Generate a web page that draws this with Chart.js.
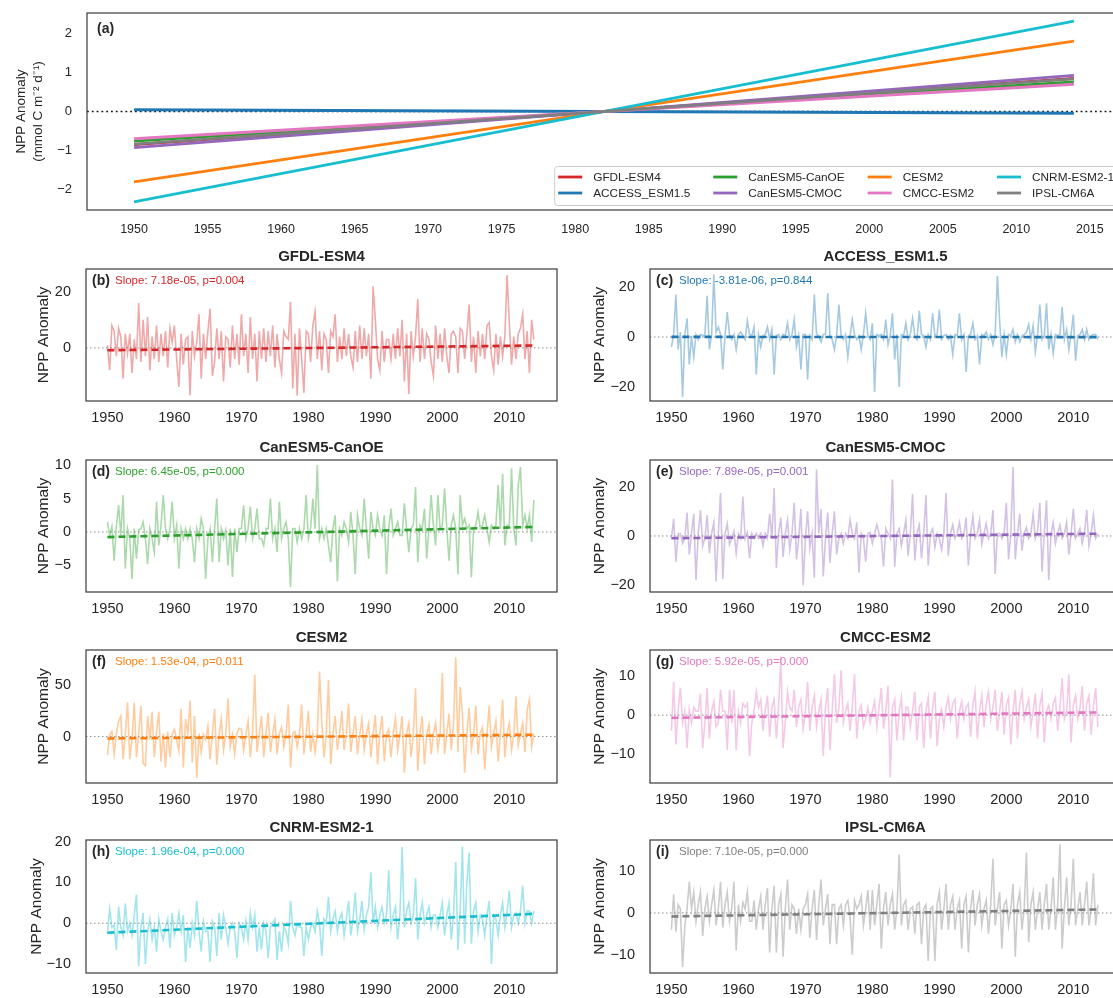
<!DOCTYPE html>
<html>
<head>
<meta charset="utf-8">
<title>NPP anomaly trends</title>
<script src="https://cdn.jsdelivr.net/npm/chart.js@4.4.1/dist/chart.umd.min.js"></script>
<style>
  html, body { margin: 0; padding: 0; background: #fff; width: 1113px; height: 998px; overflow: hidden; }
  canvas { position: absolute; }
</style>
</head>
<body>
<script>
// ---- data ----
const models = ['GFDL-ESM4', 'ACCESS_ESM1.5', 'CanESM5-CanOE', 'CanESM5-CMOC', 'CESM2', 'CMCC-ESM2', 'CNRM-ESM2-1', 'IPSL-CM6A'];
const colors = ['#d62728', '#1f77b4', '#2ca02c', '#9467bd', '#ff7f0e', '#e377c2', '#17becf', '#7f7f7f'];
const tags = ['(b)', '(c)', '(d)', '(e)', '(f)', '(g)', '(h)', '(i)'];
const slopes = ['7.18e-05', '-3.81e-06', '6.45e-05', '7.89e-05', '1.53e-04', '5.92e-05', '1.96e-04', '7.10e-05'];
const pValues = ['0.004', '0.844', '0.000', '0.001', '0.011', '0.000', '0.000', '0.000'];

// fitted trend at the first and last month of the record
const trendFirst = [-0.85, 0.045, -0.76, -0.93, -1.81, -0.70, -2.32, -0.84];
const trendLast = [0.85, -0.045, 0.76, 0.93, 1.81, 0.70, 2.32, 0.84];
const fitStart = 1950;
const fitEnd = 2013 + 11 / 12;

const topXTicks = [1950, 1955, 1960, 1965, 1970, 1975, 1980, 1985, 1990, 1995, 2000, 2005, 2010, 2015];
const topYTicks = [-2, -1, 0, 1, 2];
const panelXTicks = [1950, 1960, 1970, 1980, 1990, 2000, 2010];
const panelYTicks = [[0, 20], [-20, 0, 20], [-5, 0, 5, 10], [-20, 0, 20], [0, 50], [-10, 0, 10], [-10, 0, 10, 20], [-10, 0, 10]];

// anomalies every 4 months, Jan 1950 .. Sep 2013
const nppGFDL = [
  1,-8,8, 6,-3,7, 4,-11,5, -2,5,-9, 3,-4,16,
  -5,10,-3, 11,-8,4, -4,8,-5, 5,-3,6, -7,7,2,
  8,-4,-14, 5,-6,3, 4,-17,6, -3,2,12, -11,5,-4,
  6,14,-10, -5,7,-4, 6,-12,4, 3,-7,8, -4,5,-6,
  12,-3,5, -9,11,-4, 5,-12,6, -4,7,-5, 6,-3,8,
  -7,5,-4, -9,6,4, 3,16.5,-14.5, 5,-17,7, -4,-16,6,
  5,-5,8, 13,-4,6, -8,5,3, -9,6,4, 12,-5,4,
  -4,7,-3, 5,-3,-7, 6,-5,8, -4,7,-3, 5,-11,22,
  10,-4,-8, 6,-5,3, 3,-4,5, -4,7,-3, 10,-12,5,
  -16.5,6,-3, 4,17.5,-5, 7,-4,5, 3,-5,-10, 8,-4,5,
  -5,7,-3, -9,5,6, 4,-9,7, 6,-4,5, 15.5,-5,4,
  -9,6,-3, 5,-4,8, 9,-3,-8, 5,-6,4, -3,4,26,
  9,-6,4, -4,5,7, 12,-4,6, -9,10,3
];
const nppACCESS = [
  -4,1,17, -5,2,-24, 1,7.5,-11, 0.5,-8,1, -1,1,0.5,
  1,16.5,-5, 1,25,2, 4,1,-13, 0.5,10,1, -1,1,-5,
  1,2,0.5, -1,6.5,1, 0.5,4,-15, 1,-4,0.5, 1,4,-1,
  3,-15,0.5, 1,-1,1, 0.5,5.5,-1, 1,7,-4, 0.5,-13,1,
  1,-17,0.5, -1,17,1, 0.5,-2,1, 1,17.5,0.5, -1,-5,1,
  13,0.5,-1, 1,-8,0.5, 7,1,-1, 0.5,-5,1, 9.5,0.5,-1,
  5.5,-22,1, 0.5,1,-1, 7,-3,0.5, 9.5,-9,1, -20,1,0.5,
  5.5,-1,1, 7.5,0.5,-1, 10.5,1,0.5, -4,1,-1, 9.5,0.5,1,
  11,-1,0.5, 1,-1,0.5, -7,1,0.5, 9.5,-1,1, -14,0.5,1,
  5.5,-1,0.5, -11,1,0.5, 2,-1,1, -3,1,24.5, 6.5,-8,1,
  -7,1,0.5, 3,-2,1, -2,0.5,1, 2,5,-1, 4.5,-6,1,
  13,-1,0.5, 13.5,-5,1, -6.5,1,0.5, 1,12,-1, 3,-5,1,
  9,-9.5,0.5, 1,3,-1, 3,-1,0.5, 1,1,-1
];
const nppCanOE = [
  1.5,-0.5,0.8, -4.3,0.8,4, -0.5,5.5,-5.5, 0.5,-1,-7, 0.5,-4,0.3,
  0.5,1.5,-1, -4.8,0.5,-1, -3,4.5,-2, 1,5.5,0.5, -1,0.5,4.5,
  -1,1,-5.5, 0.5,-1,0.5, -1,0.5,-1, -4.5,0.5,-1, 2,0.5,-7,
  -1,0.5,-4.5, 0.5,5,-4.5, 0.5,-1,0.3, -5,0.5,-6.7, 0.5,-3,0.5,
  0.5,4,-1, 0.5,3.8,-1, 0.5,3.5,-1, -1,-2,0.5, 0.5,5,-1,
  0.5,-3,4.5, -1,0.5,1.5, -1,-8.2,0.5, 0.5,-1.5,0.5, -1,0.5,5.5,
  -1,0.5,5, 0.5,10,-1, 0.5,-1,0.5, -2,-4.5,0.5, 2.5,-7.4,0.5,
  -0.5,1.5,0.5, -1.5,3,-0.5, -6.3,2.5,0.5, -0.5,5,0.5, -4,3,0.5,
  -0.5,2.5,0.5, -0.5,2.5,-6.3, 0.5,3.5,-0.5, 0.5,1.5,-0.5, -0.5,4.3,0.5,
  -3,0.5,1, 6.7,-4.5,1, 0.5,3.5,-4, 0.5,5.5,1, -2,5.5,0.5,
  1,6.5,0.5, -4.3,1,2.5, 0.5,-6.3,5.5, 1,2,0.5, 1,-6.8,0.5,
  1,3,0.5, 1,2.5,0.5, -1.5,1,0.5, 1,7,0.5, 8.7,-2,1,
  1,9.5,0.5, -2,7,9.7, 1,2.5,0.5, 2.5,-1.5,4.8
];
const nppCMOC = [
  -1,7,-10.5, 1,1,-3, -1,9.5,-7.5, 1,9,-18, 1,10.5,-4,
  -1,8.5,-7, 1,5.5,-18.5, 1,17.5,-17.5, 1,5,-3.5, -1,2,-7,
  1,-1,16, -1,1.5,-9, 1,-1,1, -1,1,-4, 1,-1,9,
  -1,19.5,-13, 1,7.5,-8.5, 1,6.5,-5.5, 1,13.5,-9.5, -1,11,-20,
  -1,10,-5, 1,-17,27, 1,11,-16.5, -1,9.5,-11, 1,10,-7.5,
  -1,1,-3, 1,-1,6.5, 1,-1,5.5, -15,1,-1, -10.5,1,1.5,
  -3,1,4.5, 1,-1,-12.5, 3,1,-1, 23,-12.5,1, 3,-4,1,
  6.5,-8,1, 17,-10,1, 4.5,-9,1, 16.5,-12,1, 3,-4.5,1,
  -1,-5.5,1, 17.5,-8,1, 4.5,-1,1, 5.5,-1,1, 7.5,-12,1,
  8,-1,1, 6.5,-3.5,1, 5,-1,1, 10.5,-15.5,1, 1,-1,1,
  13.5,-9.5,1, 28,-9.5,1, 9,-6,1, 3.5,-1,1, 9,-1,2,
  13.5,-14.5,1, 14.5,-18,1, 5.5,-3,1, 4.5,-1,1, 5.5,-7.5,1,
  11,-1,1, 3,-3,1, 10.5,-4,1, 8.5,-1,1
];
const nppCESM2 = [
  -18,2,5, -17,3,15, 20,-22,2, 33,-22,-2, 33,-20,3,
  30,-26,-28, 20,-3,24, -20,5,24, -24,3,-30, 5,-20,2,
  7,-3,-14, 27,-30,17, 3,35,-25, 20,-40,3, -15,2,-3,
  10,-22,3, 27,-27,2, 17,-13,3, 37,-10,2, -17,3,8,
  7,-13,2, 15,-20,3, 60,-15,2, 20,-20,3, 23,-15,2,
  17,-17,3, 9,-10,2, 31,-30,3, 5,-10,2, 31,-17,3,
  25,-15,2, -15,3,63, 15,-20,3, 55,-27,2, 20,-13,3,
  25,-13,2, 32,-15,3, 20,-17,2, 17,-13,3, 13,-20,2,
  21,-27,3, 20,-24,2, 7,-20,3, 18,-13,2, 20,-35,3,
  13,-20,2, 47,-33,3, 20,-27,2, 12,-17,3, 13,-12,2,
  62,-17,3, 22,-13,11, 77,-15,48, 22,-35,3, 28,-12,2,
  30,-17,3, 9,-32,2, 30,-10,3, 15,-24,2, 36,-20,3,
  13,-13,2, 39,-8,3, 13,-15,26, 36,-10,3
];
const nppCMCC = [
  -4,8.5,-7.5, 1,7,-2, 1,-8.5,1.5, -2,2,1, 1,5.5,-8.5,
  -2,7,-6, 1,3.5,-3, -2,6.5,1, 1,-9,6.5, -2,6.5,-9,
  1,-2,3, 2,3,-10.5, -2,1,6, 2,4,-4, 1,5,-5.5,
  2,4,-6, 2,15,-8.5, -2,6,2, 1,6.5,-3, 2,4,-3.5,
  1,8.5,-4, 2,5,-3, 1,4,-10.5, 2,7,-9, 1,10.5,-2,
  2,11.5,-2, 1,3,-4, 2,10.5,-6, 1,2.5,-3, -1,2,-2,
  1,3.5,-3, 2,7,-3.5, 1,7.5,-16, 2,4,-6.5, 1,4.5,-6.5,
  2,2,-3, 1,6,-6.5, 2,3,-8.5, 1,4.5,-6, 2,6,-8,
  -1,1.5,-3, 2,4.5,-1, 3,4,-6, 1,3.5,-1, 2,3,-5.5,
  2.5,6,-6, 1,5,-3, 3,6,-1, 2,6.5,-4, 1,6,-5,
  2.5,4.5,-7.5, 1,6.5,-6, 3,6,-1, 2,4,-3, 1,5.5,-6,
  2.5,5.5,-7, 1,2.5,-1, 3,4.5,-4, 2,9.5,-1, 1,10.5,-7,
  2.5,5,-1, 2,7.5,-4, 3,5,-5, 2,7,-3
];
const nppCNRM = [
  -2.5,3.5,-1, -0.5,-6.5,4, -1,-3,4.8, -2,0,-3, 2,7,-10.5,
  -1,2.5,-10, -2,1,-4, -1,-7,1, -2,-4,-1, 1,-6,2.5,
  -3,-1,2.5, -2,2,-9.5, -1,-6,0, -3,5.5,-2, -7,0.5,-2,
  -2,-9.5,0.5, -1,-8,2.5, -4,2,-1, -5,-1,0, -2,-8.5,0,
  -1,-4,0.5, -4,2.5,-1, 2,-7,-1, -6.5,0,-2, -8.5,-1,0,
  1,-9,-2, -7,-1,-2, -5,5.5,-1, -3,0,-1, -1,-8,-1,
  -4,-1,0, -2,3,0, -8,1,0, 6.5,-2,1, 3,-2,1,
  2.5,-3,1, 5.5,-3,1, 7.5,-2,1, 5.5,-1.5,2, 4,12.5,0,
  4,-1,2, 4,0,2, 13,-1,2, 4,-4,2, 18.7,-1,3,
  5,0,2, 11,-4,2, 5,0,2, 4,-1,2, 2,-1,2,
  5,-3,2, 5,-4,2, 15,-6.5,3, 18.8,-5,10, 17.3,-5,3,
  5,-2,2, 1,-3,2, 5.5,-10,2, 1,-3,2, 5,-1,3,
  8,-1,2, 2.5,0,3, 9.2,0,3, 3,0,3
];
const nppIPSL = [
  -4,4.5,-4.5, 2,1,-13, -3,1,7.5, 1,5,-2, 2,5,-5.5,
  1,4,-2, 2,5.5,-3, 1,7.5,-3.5, 2,5,-2, 1,7.5,-9,
  2,-2,2.5, 1,5,-2, -2,3,-4, 1,4,-4, 2,6,-9.5,
  1,6.5,-9.5, 2,4.5,-10.5, 1,8,-4, 2,1,-5, 1,-4,1,
  2,4.5,-6, 1,5.5,-6.5, 2,8,-3, 1,4.5,-7.5, 2,2,-7.5,
  1,2,-3, 2,3,-1, -10,3,1, 2,4,-3, 1,5.5,-4,
  5.5,-3,2, 7,-8.5,1, 5,-3,2, 4.5,-4,1, 14,-3,2,
  3,-4,1, 1.5,-5,2, 2.5,-7.5,1, 2,-11.5,1, 1.5,-11.5,2,
  5,-4,1, 7,-4,2, 4,-4,1, 3,-8.5,2, 4,-9.5,1,
  5.5,-3,2, 4.5,-3,1, 3,-5,2, 13,-3,1, 5,-8.5,2,
  3,-3,1, 7,-10.5,2, 5,-4,1, 14.5,-7,2, 5,-4,1,
  5,-4,2, 7,-4,1, 8.5,-4,2, 16.5,-8.5,1, 8.5,-3,2,
  13,-3,1, 5,-3,2, 7.5,-3,1, 9.5,-3,2
];
const nppSeries = [nppGFDL, nppACCESS, nppCanOE, nppCMOC, nppCESM2, nppCMCC, nppCNRM, nppIPSL];
const sampleTimes = nppGFDL.map((_, k) => fitStart + k / 3);

// ---- layout ----
const FONT = '"Liberation Sans", Arial, Helvetica, sans-serif';
const INK = '#262626';
Chart.defaults.font.family = FONT;
Chart.defaults.color = INK;

const xMin = 1946.8, xMax = 2017.12;
const panelWidth = 471;
// frame left/top/bottom, y limits, distance of the y title from the frame
const panelBoxes = [
  { left: 86,  top: 269, bottom: 401, yMin: -19,   yMax: 28.2,  titleGap: 42 },
  { left: 650, top: 269, bottom: 401, yMin: -25.6, yMax: 27.2,  titleGap: 50 },
  { left: 86,  top: 460, bottom: 592, yMin: -8.96, yMax: 10.75, titleGap: 42 },
  { left: 650, top: 460, bottom: 592, yMin: -22.8, yMax: 30.9,  titleGap: 50 },
  { left: 86,  top: 650, bottom: 783, yMin: -45,   yMax: 84,    titleGap: 42 },
  { left: 650, top: 650, bottom: 783, yMin: -17.4, yMax: 16.7,  titleGap: 50 },
  { left: 86,  top: 840, bottom: 973, yMin: -12.2, yMax: 20.4,  titleGap: 49 },
  { left: 650, top: 840, bottom: 973, yMin: -14.4, yMax: 17.5,  titleGap: 50 }
];

function makeCanvas(left, top, width, height) {
  const c = document.createElement('canvas');
  c.width = width;
  c.height = height;
  c.style.left = left + 'px';
  c.style.top = top + 'px';
  c.style.width = width + 'px';
  c.style.height = height + 'px';
  document.body.appendChild(c);
  return c;
}

function hexAlpha(hex, a) {
  const n = parseInt(hex.slice(1), 16);
  return `rgba(${(n >> 16) & 255},${(n >> 8) & 255},${n & 255},${a})`;
}

const fmtTick = v => (v < 0 ? '\u2212' + Math.abs(v) : String(v));

// zero reference line under the data and the axes frame on top
function framePlugin(zeroColor, zeroWidth, zeroDash) {
  return {
    id: 'frame',
    beforeDatasetsDraw(chart) {
      const { ctx, chartArea: a, scales } = chart;
      const py = scales.y.getPixelForValue(0);
      ctx.save();
      ctx.strokeStyle = zeroColor;
      ctx.lineWidth = zeroWidth;
      ctx.setLineDash(zeroDash);
      ctx.beginPath();
      ctx.moveTo(a.left, py);
      ctx.lineTo(a.right, py);
      ctx.stroke();
      ctx.restore();
    },
    afterDraw(chart) {
      const { ctx, chartArea: a } = chart;
      ctx.save();
      ctx.strokeStyle = '#3a3a3a';
      ctx.lineWidth = 1.2;
      ctx.strokeRect(a.left, a.top, a.right - a.left, a.bottom - a.top);
      ctx.restore();
    }
  };
}

// axes keep a fixed size so every frame lands on the same grid
function xAxis(ticks, height, pad, size) {
  return {
    type: 'linear', min: xMin, max: xMax,
    grid: { display: false, drawTicks: false }, border: { display: false },
    afterBuildTicks: s => { s.ticks = ticks.map(v => ({ value: v })); },
    afterFit: s => { s.height = height; s.paddingLeft = 0; s.paddingRight = 0; },
    ticks: { padding: pad, autoSkip: false, maxRotation: 0, font: { size }, color: INK, callback: v => String(v) }
  };
}

function yAxis(ticks, min, max, width, pad, size, title) {
  return {
    type: 'linear', min, max,
    grid: { display: false, drawTicks: false }, border: { display: false },
    afterBuildTicks: s => { s.ticks = ticks.map(v => ({ value: v })); },
    afterFit: s => { s.width = width; s.paddingTop = 0; s.paddingBottom = 0; },
    ticks: { padding: pad, autoSkip: false, font: { size }, color: INK, callback: fmtTick },
    title
  };
}

// ---- (a) all fitted trends ----
const topLegend = {
  id: 'modelLegend',
  afterDraw(chart) {
    const { ctx, chartArea: a } = chart;
    ctx.save();
    ctx.font = '11.8px ' + FONT;
    const handle = 24, textGap = 11, colGap = 23, pad = 4, rowH = 16, boxH = 39;
    const colW = [0, 1, 2, 3].map(c => Math.max(ctx.measureText(models[2 * c]).width, ctx.measureText(models[2 * c + 1]).width));
    const totalW = pad * 2 + colW.reduce((s, w) => s + handle + textGap + w, 0) + colGap * 3;
    const right = a.right - 3, bottom = a.bottom - 5;
    const left = right - totalW, top = bottom - boxH;
    ctx.fillStyle = 'rgba(255,255,255,0.8)';
    ctx.strokeStyle = '#cccccc';
    ctx.lineWidth = 1;
    ctx.beginPath();
    ctx.roundRect(left + 0.5, top + 0.5, totalW, boxH, 3);
    ctx.fill();
    ctx.stroke();
    let x = left + pad;
    ctx.textBaseline = 'middle';
    for (let c = 0; c < 4; c++) {
      for (let r = 0; r < 2; r++) {
        const i = 2 * c + r;
        const y = top + 11 + r * rowH;
        ctx.strokeStyle = colors[i];
        ctx.lineWidth = 2.8;
        ctx.beginPath();
        ctx.moveTo(x, y);
        ctx.lineTo(x + handle, y);
        ctx.stroke();
        ctx.fillStyle = INK;
        ctx.fillText(models[i], x + handle + textGap, y + 0.5);
      }
      x += handle + textGap + colW[c] + colGap;
    }
    ctx.font = 'bold 14px ' + FONT;
    ctx.fillStyle = INK;
    ctx.fillText('(a)', a.left + 10, a.top + 16);
    ctx.restore();
  }
};

new Chart(makeCanvas(0, 0, 1123, 238), {
  type: 'line',
  data: {
    datasets: models.map((m, i) => ({
      label: m,
      data: [{ x: fitStart, y: trendFirst[i] }, { x: fitEnd, y: trendLast[i] }],
      borderColor: colors[i],
      borderWidth: 2.8,
      pointRadius: 0,
      order: models.length - i
    }))
  },
  options: {
    responsive: false, animation: false, events: [], devicePixelRatio: 1,
    layout: { autoPadding: false, padding: { top: 13, right: 2, left: 0, bottom: 0 } },
    scales: {
      x: xAxis(topXTicks, 28, 12, 12.5),
      y: yAxis(topYTicks, -2.53, 2.53, 87, 15, 13, {
        display: true, text: ['NPP Anomaly', '(mmol C m\u207B\u00B2 d\u207B\u00B9)'],
        font: { size: 13.5, lineHeight: 1.25 }, color: INK, padding: { top: 12.5, bottom: 0 }
      })
    },
    plugins: { legend: { display: false }, tooltip: { enabled: false } }
  },
  plugins: [framePlugin('#111111', 1.6, [1.8, 3]), topLegend]
});

// ---- (b)-(i) one panel per model ----
const yw = 70, titleH = 22, xh = 30;
panelBoxes.forEach((box, i) => {
  const h = titleH + (box.bottom - box.top) + xh;
  const color = colors[i];
  const notes = {
    id: 'notes',
    afterDraw(chart) {
      const { ctx, chartArea: a } = chart;
      ctx.save();
      ctx.textBaseline = 'middle';
      ctx.font = 'bold 14px ' + FONT;
      ctx.fillStyle = INK;
      ctx.fillText(tags[i], a.left + 6, a.top + 12);
      ctx.font = '11.5px ' + FONT;
      ctx.fillStyle = color;
      ctx.fillText('Slope: ' + slopes[i] + ', p=' + pValues[i], a.left + 29, a.top + 12);
      ctx.restore();
    }
  };
  new Chart(makeCanvas(box.left - yw, box.top - titleH, yw + panelWidth + 2, h), {
    type: 'line',
    data: {
      datasets: [
        {
          data: nppSeries[i].map((v, k) => ({ x: sampleTimes[k], y: v })),
          borderColor: hexAlpha(color, 0.4),
          borderWidth: 1.6,
          pointRadius: 0,
          order: 2
        },
        {
          data: [{ x: fitStart, y: trendFirst[i] }, { x: fitEnd, y: trendLast[i] }],
          borderColor: color,
          borderWidth: 2.6,
          borderDash: [7, 4],
          pointRadius: 0,
          order: 1
        }
      ]
    },
    options: {
      responsive: false, animation: false, events: [], devicePixelRatio: 1,
      layout: { autoPadding: false, padding: { top: 0, right: 2, left: 0, bottom: 0 } },
      scales: {
        x: xAxis(panelXTicks, xh, 8, 14.5),
        y: yAxis(panelYTicks[i], box.yMin, box.yMax, yw, 15, 14.5, {
          display: true, text: 'NPP Anomaly', font: { size: 15.5, lineHeight: 1.2 }, color: INK,
          padding: { top: yw - box.titleGap - 9.3, bottom: 0 }
        })
      },
      plugins: {
        legend: { display: false }, tooltip: { enabled: false },
        title: {
          display: true, text: models[i], fullSize: false, color: INK,
          font: { size: 15, weight: 'bold', lineHeight: 1.2 }, padding: { top: 0.5, bottom: 3.5 }
        }
      }
    },
    plugins: [framePlugin('#8c8c8c', 1, [1.5, 2.5]), notes]
  });
});
</script>
</body>
</html>
